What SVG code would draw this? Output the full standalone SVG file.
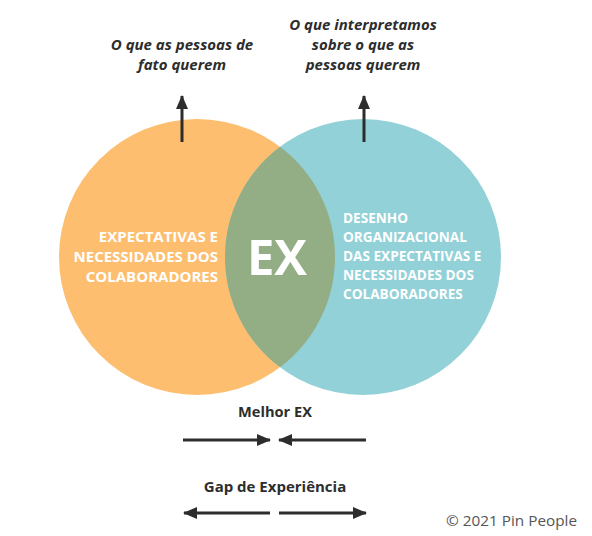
<svg xmlns="http://www.w3.org/2000/svg" width="592" height="536" viewBox="0 0 592 536">
<defs>
<style>
.lbl{font-family:"Open Sans","Noto Sans",sans-serif;font-weight:700;fill:#2d2d2d}
.it{font-style:italic;font-size:15px;text-anchor:middle}
.wt{font-family:"Open Sans","Noto Sans",sans-serif;font-weight:700;fill:#ffffff}
.ln{stroke:#2d2d2d;stroke-width:3;fill:none}
</style>
<marker id="ah" viewBox="0 0 14 12" refX="13" refY="6" markerWidth="14" markerHeight="12" markerUnits="userSpaceOnUse" orient="auto">
<path d="M0,0 L14,6 L0,12 Z" fill="#2d2d2d"/>
</marker>
</defs>
<rect width="592" height="536" fill="#ffffff"/>
<g id="circle-left">
<circle cx="197" cy="257" r="138" fill="#FEBE6F"/>
<text class="wt" font-size="15" text-anchor="end"><tspan x="218" y="242">EXPECTATIVAS E</tspan><tspan x="218" y="262">NECESSIDADES DOS</tspan><tspan x="218" y="282">COLABORADORES</tspan></text>
</g>
<g id="circle-right">
<circle cx="363" cy="257" r="138" fill="#92D1D7"/>
<text class="wt" font-size="13.6"><tspan x="343" y="223">DESENHO</tspan><tspan x="343" y="242">ORGANIZACIONAL</tspan><tspan x="343" y="261">DAS EXPECTATIVAS E</tspan><tspan x="343" y="280">NECESSIDADES DOS</tspan><tspan x="343" y="299">COLABORADORES</tspan></text>
</g>
<g id="overlap">
<path d="M280,146.75 A138,138 0 0 1 280,367.25 A138,138 0 0 1 280,146.75 Z" fill="#93AD85"/>
<text class="wt" font-size="49" text-anchor="middle" x="277" y="275">EX</text>
</g>
<g id="label-left">
<text class="lbl it"><tspan x="182" y="50">O que as pessoas de</tspan><tspan x="182" y="70">fato querem</tspan></text>
</g>
<g id="label-right">
<text class="lbl it"><tspan x="363" y="30">O que interpretamos</tspan><tspan x="363" y="50">sobre o que as</tspan><tspan x="363" y="70">pessoas querem</tspan></text>
</g>
<g id="label-melhor">
<text class="lbl" font-size="14.6" text-anchor="middle" x="275" y="417">Melhor EX</text>
</g>
<g id="label-gap">
<text class="lbl" font-size="15" text-anchor="middle" x="275" y="492">Gap de Experiência</text>
</g>
<g id="copyright">
<text font-family="Open Sans, Noto Sans, sans-serif" font-size="15.3" fill="#555555" x="577" y="526" text-anchor="end">© 2021 Pin People</text>
</g>
<g id="connectors">
<line class="ln" x1="182" y1="142" x2="182" y2="96" marker-end="url(#ah)"/>
<line class="ln" x1="364" y1="142" x2="364" y2="96" marker-end="url(#ah)"/>
<line class="ln" x1="183" y1="440" x2="270" y2="440" marker-end="url(#ah)"/>
<line class="ln" x1="366" y1="440" x2="279" y2="440" marker-end="url(#ah)"/>
<line class="ln" x1="270" y1="513" x2="184" y2="513" marker-end="url(#ah)"/>
<line class="ln" x1="279" y1="513" x2="366" y2="513" marker-end="url(#ah)"/>
</g>
</svg>
